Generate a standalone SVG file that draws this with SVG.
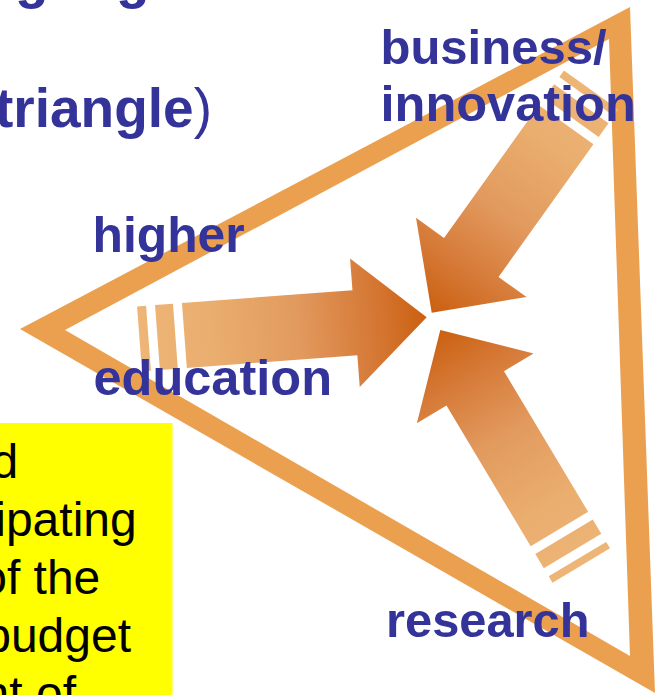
<svg xmlns="http://www.w3.org/2000/svg" width="657" height="695" viewBox="0 0 657 695">
  <defs>
    <linearGradient id="arrowGrad" x1="0" y1="0" x2="1" y2="0">
      <stop offset="0" stop-color="#EDB576"/>
      <stop offset="0.25" stop-color="#EAAE6F"/>
      <stop offset="0.55" stop-color="#E29A5E"/>
      <stop offset="0.8" stop-color="#D67A38"/>
      <stop offset="1" stop-color="#CB6010"/>
    </linearGradient>
  </defs>
  <style>
    .label { font-family: "Liberation Sans", Arial, sans-serif; font-weight: bold; font-size: 50.5px; fill: #333399; }
    .title { font-family: "Liberation Sans", Arial, sans-serif; font-weight: bold; font-size: 55px; fill: #333399; }
    .note { font-family: "Liberation Sans", Arial, sans-serif; font-size: 48px; fill: #000000; text-anchor: end; }
    .tri { fill: #EBA050; fill-rule: evenodd; }
    .arrow { fill: url(#arrowGrad); }
  </style>

  <rect width="657" height="695" fill="#FFFFFF"/>

  <g id="title">
    <text class="title" x="15" y="-3">g</text>
    <text class="title" x="116" y="-3">g</text>
    <text class="title" x="-5" y="127">triangle<tspan font-weight="normal">)</tspan></text>
  </g>

  <g id="triangle">
    <path class="tri" d="M20,329 L630,7 L655,693 Z M65,330 L630,656 L609,39 Z"/>
  </g>

  <g id="connectors">
    <g id="arrow-higher-education" transform="translate(426.7,317.3) rotate(-4.3)">
      <path class="arrow" d="M0,0 L-72,-64.5 L-72,-32.6 L-243,-32.6 L-243,32.6 L-72,32.6 L-72,64.5 Z M-252,-32.6 L-270,-32.6 L-270,32.6 L-252,32.6 Z M-279,-32.6 L-288,-32.6 L-288,32.6 L-279,32.6 Z"/>
    </g>
    <g id="arrow-business" transform="translate(431.7,312.7) rotate(125.6)">
      <path class="arrow" d="M0,0 L-68,-68 L-68,-33.5 L-231,-33.5 L-231,33.5 L-68,33.5 L-68,68 Z M-240,-33.5 L-257,-33.5 L-257,33.5 L-240,33.5 Z M-266,-33.5 L-274,-33.5 L-274,33.5 L-266,33.5 Z"/>
    </g>
    <g id="arrow-research" transform="translate(440.3,330) rotate(-120.9)">
      <path class="arrow" d="M0,0 L-68,-68 L-68,-33.5 L-232,-33.5 L-232,33.5 L-68,33.5 L-68,68 Z M-241,-33.5 L-257.5,-33.5 L-257.5,33.5 L-241,33.5 Z M-267,-33.5 L-274.5,-33.5 L-274.5,33.5 L-267,33.5 Z"/>
    </g>
  </g>

  <g id="node-business">
    <text class="label" x="380.5" y="64" style="font-size:49px">business/</text>
    <text class="label" x="380.5" y="121">innovation</text>
  </g>
  <g id="node-higher-education">
    <text class="label" x="92.5" y="252" style="font-size:49.8px">higher</text>
    <text class="label" x="93.5" y="395">education</text>
  </g>
  <g id="node-research">
    <text class="label" x="386" y="637" style="font-size:48.8px">research</text>
  </g>

  <g id="note">
    <rect x="-10" y="423" width="182.5" height="290" fill="#FFFF00"/>
    <text class="note" x="18.3" y="478">d</text>
    <text class="note" x="136.7" y="536">ipating</text>
    <text class="note" x="100.3" y="594">of the</text>
    <text class="note" x="131" y="652">budget</text>
    <text class="note" x="76" y="710">nt of</text>
  </g>
</svg>
